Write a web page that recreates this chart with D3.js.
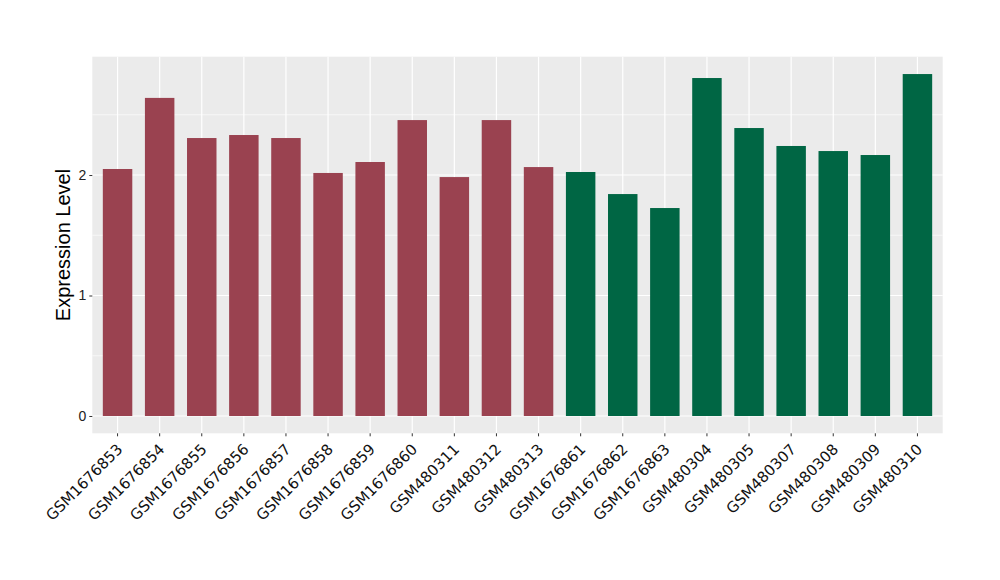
<!DOCTYPE html>
<html><head><meta charset="utf-8">
<script src="https://cdn.jsdelivr.net/npm/d3@7"></script>
<style>body{margin:0;background:#fff}svg{display:block}</style>
</head><body>
<svg id="c" width="1000" height="580"></svg>
<script>
const samples = ["GSM1676853","GSM1676854","GSM1676855","GSM1676856","GSM1676857","GSM1676858","GSM1676859","GSM1676860","GSM480311","GSM480312","GSM480313","GSM1676861","GSM1676862","GSM1676863","GSM480304","GSM480305","GSM480307","GSM480308","GSM480309","GSM480310"];
const values = [2.05,2.64,2.307,2.332,2.307,2.017,2.108,2.456,1.983,2.456,2.066,2.025,1.842,1.726,2.805,2.39,2.241,2.199,2.166,2.838];
const groups = ["A","A","A","A","A","A","A","A","A","A","A","B","B","B","B","B","B","B","B","B"];
const yTicks = [0,1,2];
const yMinor = [0.5,1.5,2.5];
const groupColors = {A:"#9a4250", B:"#006644"};

const svg = d3.select("#c");
const L=92.3, R=942.7, T=56.7, B=433.3;
const x = d3.scaleBand().domain(samples).range([L,R]).paddingInner(0.3).paddingOuter(0.25);
const y = d3.scaleLinear().domain([-0.1436, 2.982]).range([B,T]);

svg.append("rect").attr("x",L).attr("y",T).attr("width",R-L).attr("height",B-T).attr("fill","#ebebeb");
const g = svg.append("g");
g.selectAll(".ymin").data(yMinor).join("line").attr("x1",L).attr("x2",R)
 .attr("y1",d=>y(d)).attr("y2",d=>y(d)).attr("stroke","#fff").attr("stroke-width",0.6);
g.selectAll(".ymaj").data(yTicks).join("line").attr("x1",L).attr("x2",R)
 .attr("y1",d=>y(d)).attr("y2",d=>y(d)).attr("stroke","#fff").attr("stroke-width",1.2);
g.selectAll(".xmaj").data(samples).join("line").attr("y1",T).attr("y2",B)
 .attr("x1",d=>x(d)+x.bandwidth()/2).attr("x2",d=>x(d)+x.bandwidth()/2).attr("stroke","#fff").attr("stroke-width",1.2);

g.selectAll(".bar").data(samples).join("rect")
 .attr("x",d=>x(d)).attr("width",x.bandwidth())
 .attr("y",(d,i)=>y(values[i])).attr("height",(d,i)=>y(0)-y(values[i]))
 .attr("fill",(d,i)=>groupColors[groups[i]]);

// y axis
const ya = svg.append("g").attr("transform",`translate(${L},0)`)
 .call(d3.axisLeft(y).tickValues(yTicks).tickSize(3).tickPadding(3).tickFormat(d3.format("d")));
ya.select(".domain").remove();
ya.selectAll("line").attr("stroke","#333");
ya.selectAll("text").style("font-size","14px").attr("fill","#222").style("font-family","'Liberation Sans', Arial, sans-serif");

// x axis
const xa = svg.append("g").attr("transform",`translate(0,${B})`)
 .call(d3.axisBottom(x).tickSize(3).tickPadding(3));
xa.select(".domain").remove();
xa.selectAll("line").attr("stroke","#333");
xa.selectAll("text").style("font-size","15px").attr("fill","#111").style("font-family","'DejaVu Sans', sans-serif")
 .attr("text-anchor","end").attr("dy",null).attr("y",null)
 .attr("transform","translate(-2,9) rotate(-45)")
 .attr("dominant-baseline","hanging");

svg.append("text").attr("transform",`translate(70,${(T+B)/2}) rotate(-90)`)
 .attr("text-anchor","middle").style("font-size","20px").attr("fill","#000")
 .style("font-family","'Liberation Sans', Arial, sans-serif").text("Expression Level");
</script>
</body></html>
